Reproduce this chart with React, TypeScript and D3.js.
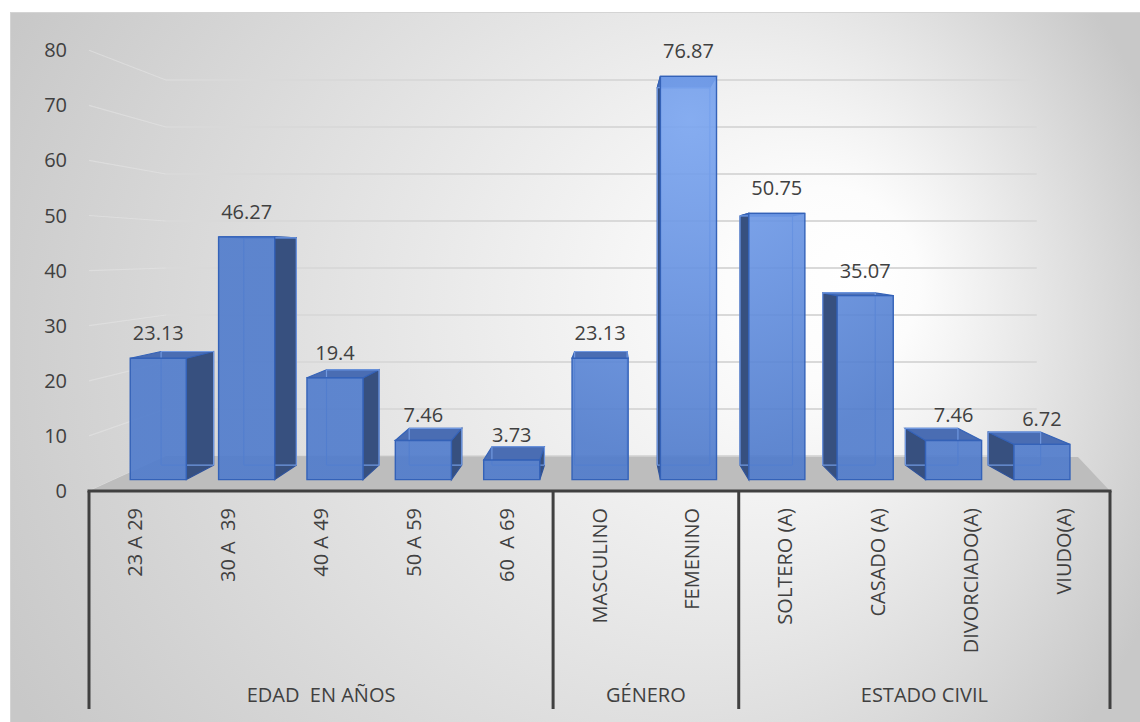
import React from "react";
import * as d3 from "d3";

// Category labels, values and grouping for the 3D column chart
const categories = [
  "23 A 29",
  "30 A  39",
  "40 A 49",
  "50 A 59",
  "60  A 69",
  "MASCULINO",
  "FEMENINO",
  "SOLTERO (A)",
  "CASADO (A)",
  "DIVORCIADO(A)",
  "VIUDO(A)",
];
const values = [23.13, 46.27, 19.4, 7.46, 3.73, 23.13, 76.87, 50.75, 35.07, 7.46, 6.72];
const groups = ["EDAD  EN AÑOS", "GÉNERO", "ESTADO CIVIL"];
const groupSizes = [5, 2, 4];
const yTicks = [0, 10, 20, 30, 40, 50, 60, 70, 80];

const W = 1140;
const H = 722;
const FONT = "'Open Sans', 'DejaVu Sans', sans-serif";
const TEXT = "#404040";

// Front plane of the plot (floor front edge)
const X0 = 89;
const X1 = 1110;
// Perspective: vanishing point and depth scale factors
const VX = 612;
const VY = 253;
const K_FRONT = 0.952;
const K_BACK = 0.891;
const K_WALL = 0.853;

const yFront = d3.scaleLinear().domain([0, 80]).range([491, 50.2]);
const xBand = d3
  .scaleBand<string>()
  .domain(categories)
  .range([X0, X1])
  .paddingInner(0.365)
  .paddingOuter(0.1825);

function proj(X: number, v: number, k: number): [number, number] {
  return [VX + (X - VX) * k, VY + (yFront(v) - VY) * k];
}
const pts = (a: [number, number][]) => a.map((p) => p.join(",")).join(" ");

export default function App() {
  const step = xBand.step();
  const bw = xBand.bandwidth();

  // group boundaries along the category axis
  const bounds: number[] = [0];
  let acc = 0;
  groupSizes.forEach((s) => {
    acc += s;
    bounds.push(acc);
  });
  const boundX = (i: number) => X0 + i * step;

  const floor: [number, number][] = [
    proj(X0, 0, 1),
    proj(X1, 0, 1),
    [1078, 457],
    proj(X0, 0, K_WALL),
  ];

  return (
    <svg
      width={W}
      height={H}
      style={{ position: "fixed", left: 0, top: 0, display: "block" }}
      fontFamily={FONT}
    >
      <defs>
        <radialGradient
          id="bg"
          gradientUnits="userSpaceOnUse"
          cx={560}
          cy={360}
          r={640}
          fx={870}
          fy={270}
        >
          <stop offset="0" stopColor="#ffffff" />
          <stop offset="0.15" stopColor="#fcfcfc" />
          <stop offset="1" stopColor="#c8c8c8" />
        </radialGradient>
        <radialGradient id="face" gradientUnits="userSpaceOnUse" cx={690} cy={120} r={340}>
          <stop offset="0" stopColor="#7aa5f0" />
          <stop offset="0.5" stopColor="#6490e0" />
          <stop offset="1" stopColor="#4f7bcc" />
        </radialGradient>
      </defs>

      <rect x={0} y={0} width={W} height={H} fill="#ffffff" />
      <rect
        x={10.5}
        y={12.5}
        width={W}
        height={H}
        fill="url(#bg)"
        stroke="#d4d4d4"
        strokeWidth={1}
      />

      {/* wall gridlines: left side wall and back wall */}
      {yTicks.map((t) => {
        const a = proj(X0, t, 1);
        const b = proj(X0, t, K_WALL);
        const c = proj(X1, t, K_WALL);
        return (
          <g key={"g" + t}>
            <line x1={a[0]} y1={a[1]} x2={b[0]} y2={b[1]} stroke="#e4e4e4" strokeOpacity={0.6} strokeWidth={1.2} />
            <line x1={b[0]} y1={b[1]} x2={c[0]} y2={c[1]} stroke="#d9d9d9" strokeWidth={2} />
          </g>
        );
      })}

      {/* floor */}
      <polygon points={pts(floor)} fill="#bdbdbd" />

      {/* y tick labels */}
      {yTicks.map((t) => (
        <text
          key={"t" + t}
          x={67}
          y={yFront(t)}
          dy="0.35em"
          textAnchor="end"
          fontSize={20}
          fill={TEXT}
        >
          {t}
        </text>
      ))}

      {/* bars */}
      {categories.map((c, i) => {
        const v = values[i];
        const xl = xBand(c)!;
        const xr = xl + bw;
        const fbl = proj(xl, 0, K_FRONT);
        const fbr = proj(xr, 0, K_FRONT);
        const ftl = proj(xl, v, K_FRONT);
        const ftr = proj(xr, v, K_FRONT);
        const bbl = proj(xl, 0, K_BACK);
        const bbr = proj(xr, 0, K_BACK);
        const btl = proj(xl, v, K_BACK);
        const btr = proj(xr, v, K_BACK);
        const rightVisible = fbr[0] < VX;
        const leftVisible = fbl[0] > VX;
        const side = rightVisible
          ? [fbr, bbr, btr, ftr]
          : leftVisible
          ? [fbl, bbl, btl, ftl]
          : null;
        const hidden: [[number, number], [number, number]][] = [
          [bbl, bbr],
          [bbl, btl],
          [bbr, btr],
          [btl, btr],
        ];
        return (
          <g key={"b" + i}>
            {side && (
              <polygon points={pts(side as [number, number][])} fill="#37507f" stroke="#2f5299" strokeWidth={1.2} />
            )}
            <polygon points={pts([ftl, ftr, btr, btl])} fill="#4a6db3" stroke="#3563b8" strokeWidth={1.2} />
            {hidden.map(([p, q], j) => (
              <line
                key={j}
                x1={p[0]}
                y1={p[1]}
                x2={q[0]}
                y2={q[1]}
                stroke="#7098e0"
                strokeWidth={1.2}
              />
            ))}
            <polygon
              points={pts([fbl, fbr, ftr, ftl])}
              fill="url(#face)"
              fillOpacity={0.9}
              stroke="#3462b8"
              strokeWidth={1.4}
            />
            <text
              x={(ftl[0] + ftr[0]) / 2}
              y={ftl[1] - 18}
              textAnchor="middle"
              fontSize={20}
              fill={TEXT}
            >
              {String(v)}
            </text>
          </g>
        );
      })}

      {/* category axis */}
      <line x1={X0 - 1.5} y1={491} x2={X1 + 1.5} y2={491} stroke="#404040" strokeWidth={3} />
      {bounds.map((b, i) => (
        <line
          key={"d" + i}
          x1={boundX(b)}
          y1={491}
          x2={boundX(b)}
          y2={709}
          stroke="#404040"
          strokeWidth={3}
        />
      ))}
      {categories.map((c) => {
        const cx = xBand(c)! + bw / 2;
        return (
          <text
            key={"c" + c}
            transform={`translate(${cx},508) rotate(-90)`}
            textAnchor="end"
            dy="0.35em"
            fontSize={20}
            fill={TEXT}
            style={{ whiteSpace: "pre" }}
          >
            {c}
          </text>
        );
      })}
      {groups.map((g, i) => (
        <text
          key={"gr" + i}
          x={(boundX(bounds[i]) + boundX(bounds[i + 1])) / 2}
          y={702}
          textAnchor="middle"
          fontSize={20}
          fill={TEXT}
          style={{ whiteSpace: "pre" }}
        >
          {g}
        </text>
      ))}
    </svg>
  );
}
